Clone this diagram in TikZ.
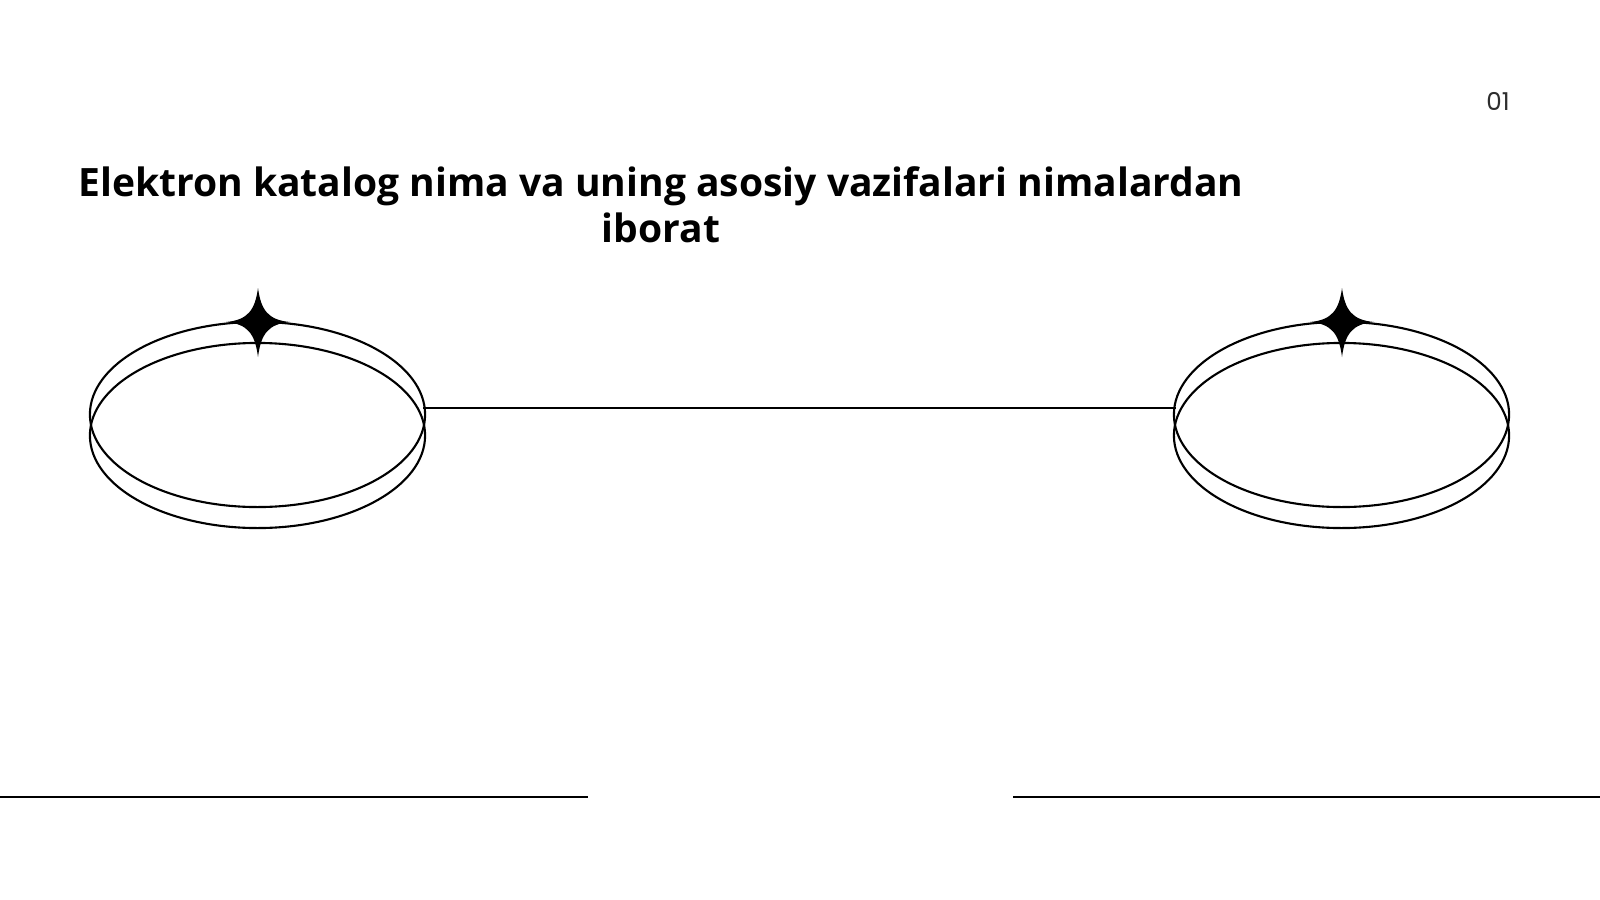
\documentclass[tikz,border=0pt]{standalone}
\usepackage{fontspec}
\usetikzlibrary{shapes.geometric}
\setmainfont{Open Sans}
\newfontfamily\numfont{Poppins}
\definecolor{inkgray}{HTML}{2E2E2E}

\begin{document}
\begin{tikzpicture}[x=0.01cm, y=-0.01cm,
        ring/.style={draw, ellipse, line width=0.6pt, minimum width=3.35cm, minimum height=1.85cm, inner sep=0pt},
        sparkle/.style={fill=black, draw=none},
        rule/.style={line width=0.6pt}]
        \useasboundingbox[fill=white] (0, 0) rectangle (1600, 900);

        \node[font=\numfont\fontsize{7}{8}\selectfont, text=inkgray] (pagenum) at (1498, 101) {01};
        \node[font=\bfseries\fontsize{11.1}{12.8}\selectfont, align=center, anchor=base] (title) at (661, 242)
            {Elektron katalog nima va uning asosiy vazifalari nimalardan\\iborat};

        \node[ring] (ringLtop) at (257.5, 414.5) {};
        \node[ring] (ringLbot) at (257.5, 435.5) {};
        \node[ring] (ringRtop) at (1341.5, 414.5) {};
        \node[ring] (ringRbot) at (1341.5, 435.5) {};

        \fill[sparkle] (258, 288) .. controls (261, 310) and (268, 320) .. (290, 322)
            .. controls (268, 324) and (261, 334) .. (258, 357)
            .. controls (255, 334) and (248, 324) .. (226, 322)
            .. controls (248, 320) and (255, 310) .. cycle;
        \fill[sparkle] (1342, 288) .. controls (1345, 310) and (1352, 320) .. (1374, 322)
            .. controls (1352, 324) and (1345, 334) .. (1342, 357)
            .. controls (1339, 334) and (1332, 324) .. (1310, 322)
            .. controls (1332, 320) and (1339, 310) .. cycle;

        \coordinate (linkL) at (423, 408);
        \coordinate (linkR) at (1176, 408);
        \draw[rule] (linkL) -- (linkR);

        \coordinate (baseL1) at (0, 797);
        \coordinate (baseL2) at (588, 797);
        \coordinate (baseR1) at (1013, 797);
        \coordinate (baseR2) at (1600, 797);
        \draw[rule] (baseL1) -- (baseL2);
        \draw[rule] (baseR1) -- (baseR2);
    \end{tikzpicture}
\end{document}
